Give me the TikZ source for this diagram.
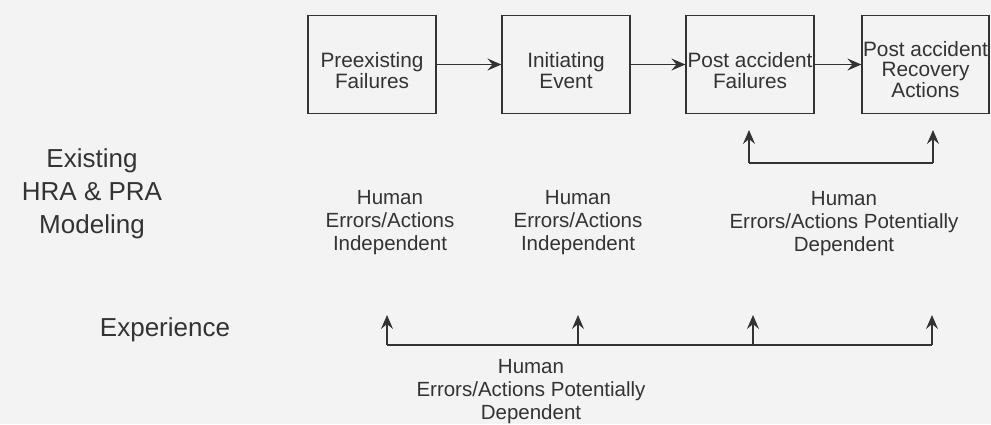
\documentclass[tikz,border=0pt]{standalone}
\usepackage{fontspec}
\setmainfont{Liberation Sans}
\usetikzlibrary{arrows.meta}
\definecolor{ink}{HTML}{333333}
\definecolor{paper}{HTML}{F3F3F3}
\begin{document}
\begin{tikzpicture}[x=1pt,y=-1pt,
  every node/.style={text=ink},
  stagebox/.style={draw=ink,line width=1.2pt,minimum width=128pt,minimum height=98pt,inner sep=0pt},
  boxtext/.style={align=center,inner sep=0pt,font=\fontsize{20.8}{20.5}\selectfont},
  arr/.style={draw=ink,line width=1.2pt,-{Stealth[length=14pt,width=12pt,inset=5pt]}},
  link/.style={draw=ink,line width=1.2pt},
  biglabel/.style={align=center,inner sep=0pt,font=\fontsize{26}{33}\selectfont},
  note/.style={align=center,inner sep=0pt,font=\fontsize{20.5}{23}\selectfont}]
  \fill[paper] (0,0) rectangle (991,424);
  \useasboundingbox (0,0) rectangle (991,424);

  % event sequence
  \node[stagebox] (b1) at (372,64.5) {};
  \node[stagebox] (b2) at (566,64.5) {};
  \node[stagebox] (b3) at (750,64.5) {};
  \node[stagebox,minimum width=127pt] (b4) at (925.5,64.5) {};
  \node[boxtext] (t1) at ([yshift=-6pt]b1.center) {Preexisting\\Failures};
  \node[boxtext] (t2) at ([yshift=-6pt]b2.center) {Initiating\\Event};
  \node[boxtext] (t3) at ([yshift=-6pt]b3.center) {Post accident\\Failures};
  \node[boxtext] (t4) at ([yshift=-5pt]b4.center) {Post accident\\Recovery\\Actions};
  \draw[arr] (b1) -- (b2);
  \draw[arr] (b2) -- (b3);
  \draw[arr] (b3) -- (b4);

  % dependence between the two post-accident stages
  \coordinate (u3) at (749,130);
  \coordinate (u4) at (933,130);
  \coordinate (hu) at (0,163);
  \draw[link] (u3 |- hu) -- (u4 |- hu);
  \draw[arr] (u3 |- hu) -- (u3);
  \draw[arr] (u4 |- hu) -- (u4);

  % row headings
  \node[biglabel] (model) at (92,194) {Existing\\HRA \& PRA\\Modeling};
  \node[biglabel] (exper) at (165,330) {Experience};

  % modelling assumptions
  \node[note] (m1) at (390,223) {Human\\Errors/Actions\\Independent};
  \node[note] (m2) at (578,223) {Human\\Errors/Actions\\Independent};
  \node[note] (m3) at (844,224) {Human\\Errors/Actions Potentially\\Dependent};

  % observed dependence across all stages
  \coordinate (p1) at (387,315);
  \coordinate (p2) at (578,315);
  \coordinate (p3) at (753,315);
  \coordinate (p4) at (932,315);
  \coordinate (hp) at (0,345);
  \draw[link] (p1 |- hp) -- (p4 |- hp);
  \foreach \p in {p1,p2,p3,p4} \draw[arr] (\p |- hp) -- (\p);
  \node[note] (e1) at (531,392) {Human\\Errors/Actions Potentially\\Dependent};
\end{tikzpicture}
\end{document}
